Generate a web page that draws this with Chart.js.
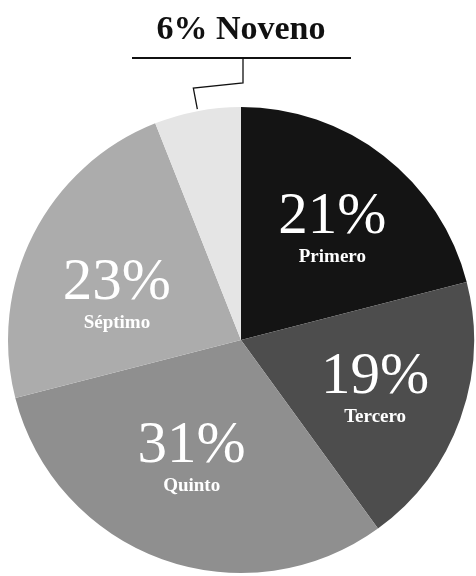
<!DOCTYPE html>
<html>
<head>
<meta charset="utf-8">
<script src="https://cdn.jsdelivr.net/npm/chart.js@4"></script>
<style>
  html, body { margin: 0; padding: 0; background: #fff; }
  #wrap { width: 476px; height: 576px; position: relative; }
</style>
</head>
<body>
<div id="wrap"><canvas id="chart"></canvas></div>
<script>
const categories = ['Primero', 'Tercero', 'Quinto', 'Séptimo', 'Noveno']
const shares = [21, 19, 31, 23, 6]
const colors = ['#141414', '#4d4d4d', '#8f8f8f', '#acacac', '#e5e5e5']

// slice labels: radius fraction and small angle nudge (degrees)
const labelRadius = [0.6, 0.62, 0.57, 0.56]
const labelNudge = [3, 2, 2, -9]

const serif = '"Liberation Serif", "DejaVu Serif", serif'

const pieLabels = {
  id: 'pieLabels',
  afterDraw (chart) {
    const ctx = chart.ctx
    const arcs = chart.getDatasetMeta(0).data
    ctx.save()
    ctx.textAlign = 'center'
    ctx.fillStyle = '#fff'
    arcs.forEach((arc, i) => {
      if (i === 4) return
      const p = arc.getProps(['x', 'y', 'startAngle', 'endAngle', 'outerRadius'], true)
      const mid = (p.startAngle + p.endAngle) / 2 + labelNudge[i] * Math.PI / 180
      const r = p.outerRadius * labelRadius[i]
      const cx = p.x + Math.cos(mid) * r
      const cy = p.y + Math.sin(mid) * r
      ctx.font = '59px ' + serif
      ctx.textBaseline = 'alphabetic'
      ctx.fillText(shares[i] + '%', cx, cy - 1)
      ctx.font = 'bold 19px ' + serif
      ctx.fillText(categories[i], cx, cy + 28)
    })

    // Noveno callout above the pie
    const a = arcs[4].getProps(['x', 'y', 'startAngle', 'endAngle', 'outerRadius'], true)
    const m = (a.startAngle + a.endAngle) / 2
    const ax = a.x + Math.cos(m) * a.outerRadius
    const ay = a.y + Math.sin(m) * a.outerRadius - 2
    const lineY = 58
    ctx.fillStyle = '#111'
    ctx.font = 'bold 34px ' + serif
    ctx.textBaseline = 'alphabetic'
    ctx.fillText(shares[4] + '% ' + categories[4], a.x, 39)
    ctx.strokeStyle = '#111'
    ctx.lineWidth = 2
    ctx.beginPath()
    ctx.moveTo(132, lineY)
    ctx.lineTo(351, lineY)
    ctx.stroke()
    ctx.lineWidth = 1.3
    ctx.beginPath()
    ctx.moveTo(a.x + 2, lineY)
    ctx.lineTo(a.x + 2, lineY + 25)
    ctx.lineTo(ax - 4, lineY + 30)
    ctx.lineTo(ax, ay)
    ctx.stroke()
    ctx.restore()
  }
}

new Chart(document.getElementById('chart').getContext('2d'), {
  type: 'pie',
  data: {
    labels: categories,
    datasets: [{
      data: shares,
      backgroundColor: colors,
      borderWidth: 0
    }]
  },
  options: {
    responsive: true,
    maintainAspectRatio: false,
    animation: false,
    layout: { padding: { top: 107, left: 8, right: 2, bottom: 3 } },
    plugins: {
      legend: { display: false },
      tooltip: { enabled: false }
    }
  },
  plugins: [pieLabels]
})
</script>
</body>
</html>
